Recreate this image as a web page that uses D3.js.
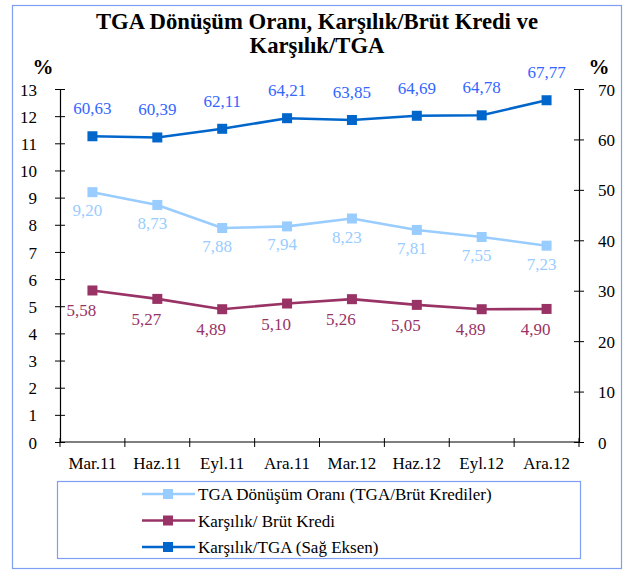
<!DOCTYPE html>
<html>
<head>
<meta charset="utf-8">
<script src="https://cdn.jsdelivr.net/npm/d3@7"></script>
<style>
  html, body { margin: 0; padding: 0; background: #fff; }
  svg { display: block; }
</style>
</head>
<body>
<svg id="chart" width="626" height="570"></svg>
<script>
// Quarterly periods
const categories = ["Mar.11", "Haz.11", "Eyl.11", "Ara.11", "Mar.12", "Haz.12", "Eyl.12", "Ara.12"];

// TGA Dönüşüm Oranı (TGA/Brüt Krediler), left axis, %
const tgaConversion = [9.20, 8.73, 7.88, 7.94, 8.23, 7.81, 7.55, 7.23];
// Karşılık/Brüt Kredi, left axis, %
const provisionToGross = [5.58, 5.27, 4.89, 5.10, 5.26, 5.05, 4.89, 4.90];
// Karşılık/TGA, right axis, %
const provisionToNpl = [60.63, 60.39, 62.11, 64.21, 63.85, 64.69, 64.78, 67.77];

const leftTicks = d3.range(0, 14, 1);
const rightTicks = d3.range(0, 71, 10);

const titleLines = ["TGA Dönüşüm Oranı, Karşılık/Brüt Kredi ve", "Karşılık/TGA"];
const legendNames = [
  "TGA Dönüşüm Oranı (TGA/Brüt Krediler)",
  "Karşılık/ Brüt Kredi",
  "Karşılık/TGA (Sağ Eksen)"
];

const FONT = "'Liberation Serif', 'Times New Roman', serif";
const svg = d3.select("#chart").style("font-family", FONT);
const plot = { left: 60, right: 579, top: 89, bottom: 442 };

const x = d3.scaleBand().domain(categories).range([plot.left, plot.right]);
const yL = d3.scaleLinear().domain([0, 13]).range([plot.bottom, plot.top]);
const yR = d3.scaleLinear().domain([0, 70]).range([plot.bottom, plot.top]);
const cx = d => x(d) + x.bandwidth() / 2;

const fmt = v => d3.format(".2f")(v).replace(".", ",");

// outer frame
svg.append("rect")
  .attr("x", 12.5).attr("y", 5.5).attr("width", 609).attr("height", 563)
  .attr("fill", "none").attr("stroke", "#7f9ff5").attr("stroke-width", 1.2);

// title
svg.append("text")
  .attr("x", 316).attr("y", 29)
  .attr("text-anchor", "middle")
  .style("font-family", FONT)
  .attr("font-size", 22.7).attr("font-weight", "bold")
  .selectAll("tspan").data(titleLines).join("tspan")
  .attr("x", 317).attr("dy", (d, i) => i === 0 ? 0 : 24)
  .text(d => d);

// axis unit markers
svg.append("text").attr("x", 43).attr("y", 74).attr("text-anchor", "middle")
  .style("font-family", FONT)
  .attr("font-size", 21).attr("font-weight", "bold").text("%");
svg.append("text").attr("x", 599).attr("y", 74).attr("text-anchor", "middle")
  .style("font-family", FONT)
  .attr("font-size", 21).attr("font-weight", "bold").text("%");

// axes
function styleAxis(g) {
  g.attr("font-family", null);
  g.selectAll("path.domain").attr("stroke", "#000").attr("stroke-width", 1.2);
  g.selectAll(".tick line").attr("stroke", "#000").attr("stroke-width", 1);
  g.selectAll(".tick text").style("font-family", FONT).attr("font-size", 17).attr("fill", "#000");
}

const gL = svg.append("g").attr("transform", `translate(${plot.left},0)`)
  .call(d3.axisLeft(yL).tickValues(leftTicks).tickSize(5).tickSizeOuter(0).tickPadding(18));
gL.selectAll(".tick line").attr("x2", 5).attr("x1", -5);
styleAxis(gL);
gL.selectAll(".tick text").attr("dy", "0.36em");

const gR = svg.append("g").attr("transform", `translate(${plot.right},0)`)
  .call(d3.axisRight(yR).tickValues(rightTicks).tickSize(5).tickSizeOuter(0).tickPadding(14));
gR.selectAll(".tick line").attr("x1", -5).attr("x2", 5);
styleAxis(gR);
gR.selectAll(".tick text").attr("dy", "0.36em");

// category axis with ticks at band boundaries
const gX = svg.append("g").attr("transform", `translate(0,${plot.bottom})`);
gX.append("line").attr("x1", plot.left).attr("x2", plot.right)
  .attr("stroke", "#000").attr("stroke-width", 1.2);
const bounds = categories.map(c => x(c)).concat([plot.right]);
gX.selectAll("line.tk").data(bounds).join("line").attr("class", "tk")
  .attr("x1", d => d).attr("x2", d => d).attr("y1", -4).attr("y2", 5)
  .attr("stroke", "#000").attr("stroke-width", 1);
gX.selectAll("text").data(categories).join("text")
  .attr("x", d => cx(d)).attr("y", 27)
  .attr("text-anchor", "middle").style("font-family", FONT)
  .attr("font-size", 17).text(d => d);

// series definitions
const series = [
  { name: legendNames[0], values: tgaConversion, y: yL, color: "#99ccff", label: "#99ccff", dx: -5, dy: 24 },
  { name: legendNames[1], values: provisionToGross, y: yL, color: "#993366", label: "#993366", dx: -11, dy: 26 },
  { name: legendNames[2], values: provisionToNpl, y: yR, color: "#0066cc", label: "#3366ff", dx: 0, dy: -22 }
];

const line = (ys) => d3.line().x((d, i) => cx(categories[i])).y(d => ys(d));

series.forEach(s => {
  const g = svg.append("g");
  g.append("path").datum(s.values)
    .attr("d", line(s.y))
    .attr("fill", "none").attr("stroke", s.color).attr("stroke-width", 2.6);
  g.selectAll("rect").data(s.values).join("rect")
    .attr("x", (d, i) => cx(categories[i]) - 5)
    .attr("y", d => s.y(d) - 5)
    .attr("width", 10).attr("height", 10)
    .attr("fill", s.color);
  g.selectAll("text").data(s.values).join("text")
    .attr("x", (d, i) => cx(categories[i]) + s.dx)
    .attr("y", d => s.y(d) + s.dy)
    .attr("text-anchor", "middle")
    .style("font-family", FONT)
    .attr("font-size", 17)
    .attr("fill", s.label)
    .text(d => fmt(d));
});

// legend
const legend = svg.append("g");
legend.append("rect")
  .attr("x", 57.5).attr("y", 481.5).attr("width", 523).attr("height", 77)
  .attr("fill", "none").attr("stroke", "#7f9ff5").attr("stroke-width", 1.2);
const rows = legend.selectAll("g.row").data(series).join("g").attr("class", "row")
  .attr("transform", (d, i) => `translate(0,${494 + i * 26.5})`);
rows.append("line").attr("x1", 142).attr("x2", 195)
  .attr("stroke", d => d.color).attr("stroke-width", 2.6);
rows.append("rect").attr("x", 163).attr("y", -5).attr("width", 10).attr("height", 10)
  .attr("fill", d => d.color);
rows.append("text").attr("x", 198).attr("y", 6)
  .style("font-family", FONT)
  .attr("font-size", 17).text(d => d.name);
</script>
</body>
</html>
